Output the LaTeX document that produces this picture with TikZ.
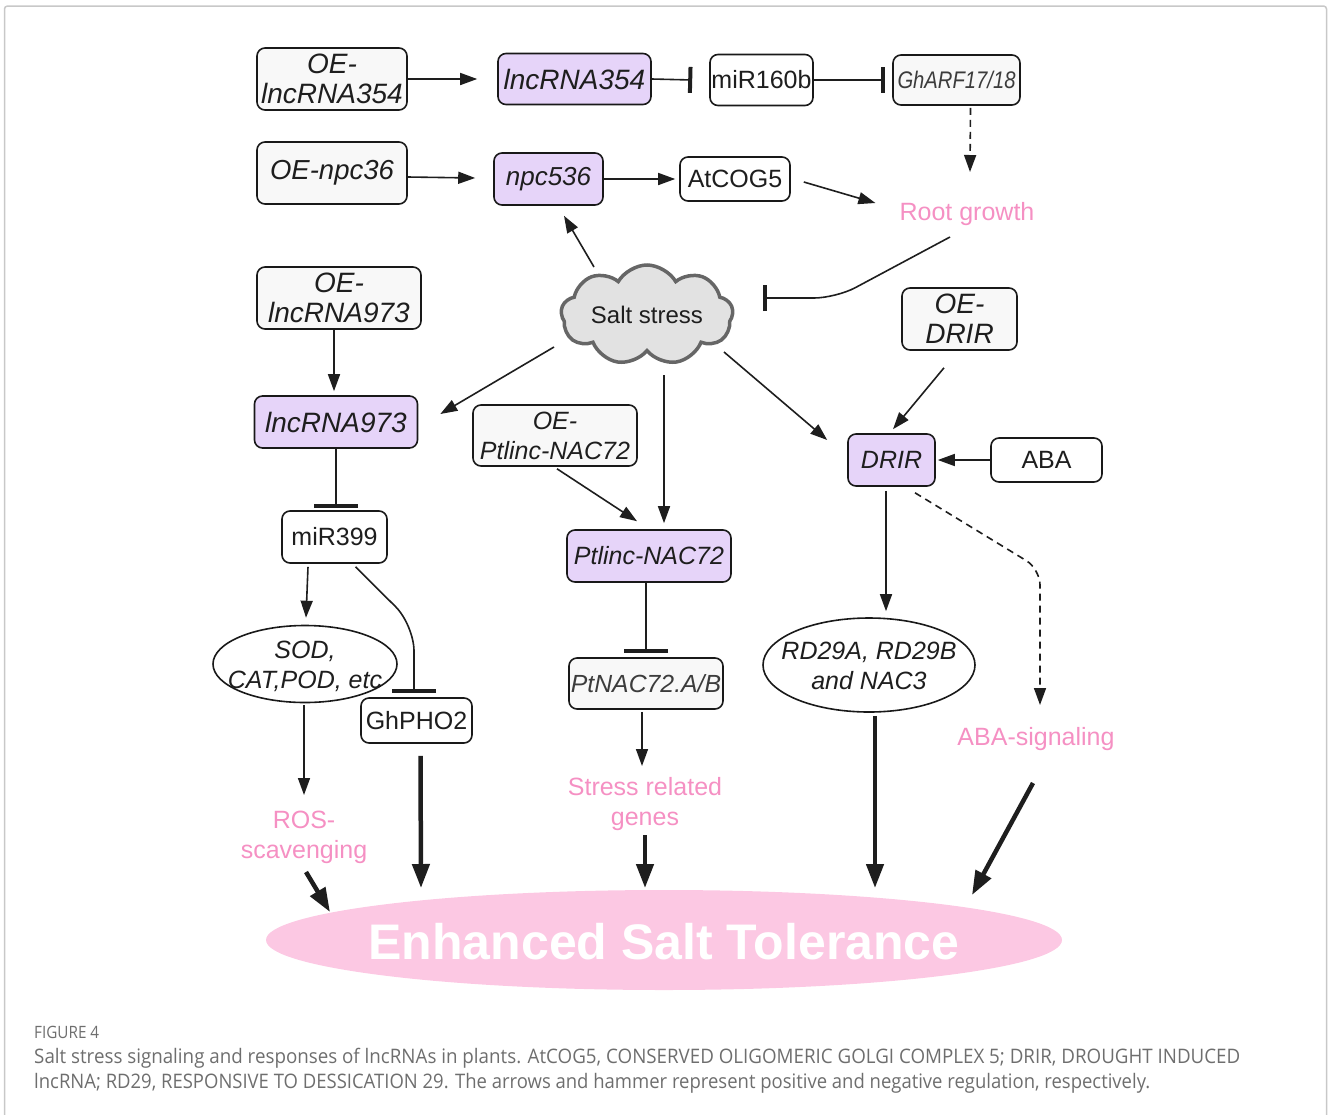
\documentclass[tikz,border=0pt]{standalone}
\usepackage{graphicx}
\usepackage{fontspec}
\setmainfont{Liberation Sans}
\newfontfamily\capfont{Open Sans}
\usetikzlibrary{arrows.meta,shapes.geometric,shapes.symbols,calc}
\definecolor{lav}{HTML}{E6D4F9}
\definecolor{boxgray}{HTML}{F8F8F8}
\definecolor{pinkt}{HTML}{F590C3}
\definecolor{bigpink}{HTML}{FCC8E3}
\definecolor{framecol}{HTML}{C8C8C8}
\definecolor{captxt}{HTML}{6E6E6E}
\definecolor{txt}{HTML}{1E1E1E}
\definecolor{graytxt}{HTML}{3C3C3C}
\definecolor{cloudfill}{HTML}{E2E2E2}
\definecolor{cloudline}{HTML}{666666}
\newcommand\myfs[1]{\fontsize{#1}{30}\selectfont}
\begin{document}
\begin{tikzpicture}[x=1pt,y=-1pt,
  box/.style={draw=black!90, line width=1.6pt, rounded corners=8pt, inner sep=0pt,
    align=center, text=txt, fill=white, font=\myfs{25}},
  oebox/.style={box, fill=boxgray},
  lncbox/.style={box, fill=lav},
  ovalshape/.style={ellipse, draw=black!90, line width=1.6pt, inner sep=0pt, fill=white},
  ovaltext/.style={inner sep=0pt, align=center, text=txt, font=\myfs{25}\itshape},
  pk/.style={text=pinkt, inner sep=0pt, align=center, font=\myfs{25}},
  arr/.style={line width=1.6pt, draw=txt, -{Triangle[length=17pt,width=12pt]}},
  tarr/.style={line width=4.5pt, draw=txt, -{Triangle[length=24pt,width=17pt]}},
  hamV/.style={line width=1.6pt, draw=txt, -{Bar[width=44pt,line width=4pt]}},
  hamH/.style={line width=1.6pt, draw=txt, -{Bar[width=26pt,line width=4pt]}},
  dasharr/.style={arr, dash pattern=on 7pt off 5pt}
]
\useasboundingbox (0,0) rectangle (1328,1114);
\draw[framecol, line width=1.5pt, rounded corners=3pt] (4.5,6) rectangle (1326.5,1130);

% row 1
\node[oebox, minimum width=150pt, minimum height=62pt, font=\myfs{28}\itshape] (oe354) at (332,79) {OE-\\lncRNA354};
\node[lncbox, minimum width=153pt, minimum height=51pt, font=\myfs{28}\itshape] (l354) at (574.5,79) {lncRNA354};
\node[box, minimum width=103pt, minimum height=51pt] (mir160) at (761.5,80) {miR160b};
\node[oebox, minimum width=127pt, minimum height=50pt, text=graytxt] (gharf) at (956.5,80)
  {\resizebox{118pt}{\height}{\fontsize{24}{26}\selectfont\itshape GhARF17/18}};

% row 2
\node[oebox, minimum width=150pt, minimum height=62pt, font=\myfs{27.5}\itshape] (oenpc) at (332,173) {OE-npc36};
\node[lncbox, minimum width=109pt, minimum height=52pt, font=\myfs{26}\itshape] (npc) at (548.5,179) {npc536};
\node[box, minimum width=110pt, minimum height=44pt] (atcog) at (735,179) {AtCOG5};
\node[pk] (root) at (967,214) {Root growth};

% salt stress
\node[cloud, cloud puffs=9, cloud puff arc=120, cloud ignores aspect, minimum width=172pt,
  minimum height=100pt, draw=cloudline, line width=3.5pt, fill=cloudfill, inner sep=0pt,
  text=txt, font=\myfs{24}] (salt) at (647,315) {Salt stress};

% left column
\node[oebox, minimum width=164pt, minimum height=62pt, font=\myfs{28}\itshape] (oe973) at (339,298) {OE-\\lncRNA973};
\node[lncbox, minimum width=163pt, minimum height=52pt, font=\myfs{28}\itshape] (l973) at (336,422) {lncRNA973};
\node[box, minimum width=105pt, minimum height=52pt] (mir399) at (334.5,537) {miR399};
\node[ovalshape, minimum width=184pt, minimum height=77pt] (sod) at (305,664) {};
\node[ovaltext] (sodtxt) at ($(sod.center)+(0,2)$) {SOD,\\CAT,POD, etc};
\node[box, minimum width=111pt, minimum height=45pt] (ghpho) at (416.5,720.5) {GhPHO2};
\node[pk] (ros) at (304,837) {ROS-\\scavenging};

% middle column
\node[oebox, minimum width=164pt, minimum height=61pt, font=\myfs{25}\itshape] (oeptl) at (555,435.5) {OE-\\Ptlinc-NAC72};
\node[lncbox, minimum width=164pt, minimum height=52pt, font=\myfs{25}\itshape] (ptl) at (649,556) {Ptlinc-NAC72};
\node[oebox, minimum width=154pt, minimum height=51pt, font=\myfs{24.8}\itshape, text=graytxt] (ptnac) at (646,683.5) {PtNAC72.A/B};
\node[pk] (stress) at (645,804) {Stress related\\genes};

% right column
\node[oebox, minimum width=115pt, minimum height=62pt, font=\myfs{28}\itshape] (oedrir) at (959.5,319) {OE-\\DRIR};
\node[lncbox, minimum width=87pt, minimum height=52pt, font=\myfs{25}\itshape] (drir) at (891.5,460) {DRIR};
\node[box, minimum width=111pt, minimum height=44pt] (aba) at (1046.5,460) {ABA};
\node[ovalshape, minimum width=212pt, minimum height=94pt] (rd29) at (869,665) {};
\node[ovaltext] (rd29txt) at ($(rd29.center)+(0,1)$) {RD29A, RD29B\\and NAC3};
\node[pk] (abasig) at (1036,739) {ABA-signaling};

% outcome
\node[ellipse, fill=bigpink, minimum width=796pt, minimum height=100pt, inner sep=0pt] (big) at (664,940) {};
\node[inner sep=0pt, text=white, font=\fontsize{50}{52}\selectfont\bfseries] (bigtxt) at ($(big.center)+(0,2)$) {Enhanced Salt Tolerance};

% connectors row 1
\draw[arr] (oe354.east) -- ($(l354.west)+(-20,0)$);
\draw[hamH] (l354.east) -- ($(mir160.west)+(-17,0)$);
\draw[hamH] (mir160.east) -- ($(gharf.west)+(-7,0)$);
\draw[dasharr] ($(gharf.south)+(14,2)$) -- ($(root.center)+(3,-42)$);

% row 2
\draw[arr] ($(oenpc.east)+(0,4)$) -- ($(npc.west)+(-18,-1)$);
\draw[arr, shorten >=4pt] (npc.east) -- (npc.east -| atcog.west);
\draw[arr] ($(atcog.east)+(13,3)$) -- ($(root.west)+(-24,-11)$);
\coordinate (rootbar) at (763,298);
\draw[hamH, rounded corners=22pt] ($(root.center)+(-17,23)$) -- (836,298) -- (rootbar);

% salt stress outputs
\draw[arr] ($(salt.center)+(-53,-48)$) -- ($(npc.south)+(15.5,10)$);
\draw[arr] ($(salt.center)+(-93,32)$) -- ($(l973.east)+(22,-8)$);
\draw[arr] ($(salt.center)+(17,60)$) -- ($(ptl.north)+(15,-6)$);
\draw[arr] ($(salt.center)+(77,37)$) -- ($(drir.west)+(-20,-20)$);

% left column
\draw[arr] ($(oe973.south)+(-5,0)$) -- ($(l973.north)+(-2,-4)$);
\draw[hamV] (l973.south) -- ($(mir399.north)+(1.5,-2)$);
\draw[arr] ($(mir399.south)+(-26.5,3)$) -- ($(sod.north)+(1,-7)$);
\draw[hamV, rounded corners=26pt] ($(mir399.south)+(21,3)$) -- (414,625) -- ($(ghpho.north)+(-2.5,-4)$);
\draw[arr] ($(sod.south)+(-1,2)$) -- ($(ros.center)+(0,-42)$);
\draw[tarr] ($(ros.center)+(2,35)$) -- ($(big.center)+(-334,-28)$);
\draw[tarr] ($(ghpho.south)+(4,12)$) -- ($(big.center)+(-243,-52)$);

% middle column
\draw[arr] ($(oeptl.south)+(2,2)$) -- ($(ptl.north)+(-12,-8)$);
\draw[hamV] ($(ptl.south)+(-3,0)$) -- ($(ptnac.north)+(0,-4)$);
\draw[arr] ($(ptnac.south)+(-4,2)$) -- ($(stress.center)+(-3,-38)$);
\draw[tarr] ($(stress.center)+(0,31)$) -- ($(big.center)+(-19,-52)$);

% right column
\draw[arr] ($(oedrir.south)+(-15.5,17)$) -- ($(drir.north)+(1.5,-4)$);
\draw[arr, shorten >=2pt] (aba.west) -- (drir.east);
\draw[arr] ($(drir.south)+(-5.5,4)$) -- ($(rd29.north)+(17,-6)$);
\draw[dasharr, rounded corners=16pt] ($(drir.south)+(23.5,6)$) -- (1040,569) -- ($(abasig.center)+(4,-34)$);
\draw[tarr] ($(rd29.south)+(6,3)$) -- ($(big.center)+(211,-52)$);
\draw[tarr] ($(abasig.center)+(-3,44)$) -- ($(big.center)+(308,-45)$);

% caption
\node[anchor=base west, inner sep=0pt, text=captxt] (figlab) at (34,1038)
  {\resizebox{65pt}{\height}{\capfont\fontsize{17}{19}\selectfont FIGURE 4}};
\node[anchor=base west, inner sep=0pt, text=captxt] (cap1) at (34,1063)
  {\resizebox{1206pt}{\height}{\capfont\fontsize{20}{22}\selectfont Salt stress signaling and responses of lncRNAs in plants. AtCOG5, CONSERVED OLIGOMERIC GOLGI COMPLEX 5; DRIR, DROUGHT INDUCED}};
\node[anchor=base west, inner sep=0pt, text=captxt] (cap2) at (34,1088)
  {\resizebox{1116pt}{\height}{\capfont\fontsize{20}{22}\selectfont lncRNA; RD29, RESPONSIVE TO DESSICATION 29. The arrows and hammer represent positive and negative regulation, respectively.}};
\end{tikzpicture}
\end{document}
